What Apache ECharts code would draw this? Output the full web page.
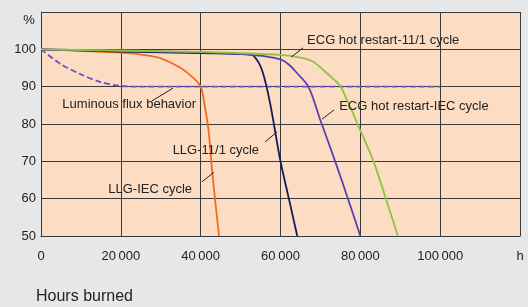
<!DOCTYPE html>
<html>
<head>
<meta charset="utf-8">
<script src="https://cdn.jsdelivr.net/npm/echarts@6/dist/echarts.min.js"></script>
<style>
  html, body { margin: 0; padding: 0; background: #e6e7e9; }
  #main { width: 528px; height: 307px; }
</style>
</head>
<body>
<div id="main"></div>
<script>
// values (hours, %)
var fluxBehavior = [[0, 100], [5000, 96], [10000, 93.3], [15000, 91.2], [20000, 90.2], [25000, 90], [100000, 90]];
var llgIec = [[0, 100], [10000, 99.6], [20000, 99.1], [25000, 98.6], [30000, 97.6], [35000, 95], [38000, 92.5], [40000, 90], [41000, 85], [42000, 78], [43000, 66], [44600, 50]];
var llg111 = [[0, 100], [20000, 99.4], [40000, 99], [50000, 98.8], [53000, 98.4], [54500, 96.5], [55500, 94], [56500, 90], [57500, 85], [58500, 79], [60000, 70], [62100, 60], [64200, 50]];
var ecgIec = [[0, 100], [40000, 99.2], [50000, 98.7], [57000, 98], [60000, 97.3], [62000, 96], [64000, 93.8], [67000, 90], [70000, 81], [73700, 70], [76900, 60], [80000, 50]];
var ecg111 = [[0, 100], [40000, 99.3], [50000, 99], [60000, 98.5], [65000, 97.8], [68000, 96.8], [71000, 94.2], [73300, 92], [74400, 90.9], [75400, 89.4], [76400, 87], [77500, 84.5], [79500, 79.5], [83300, 70], [86400, 60], [89400, 50]];

// labels with their leader lines: [text, line from, line to, text anchor, align]
var notes = [
  ['ECG hot restart-11/1 cycle', [62650, 97.9], [65660, 100.4], [66660, 102.5], 'left'],
  ['ECG hot restart-IEC cycle', [70400, 81.3], [73400, 83.75], [74700, 84.8], 'left'],
  ['Luminous flux behavior', [27800, 86.2], [33070, 89.6], [38840, 85.3], 'right'],
  ['LLG-11/1 cycle', [56140, 75.2], [59150, 77.9], [54640, 73], 'right'],
  ['LLG-IEC cycle', [40330, 64.5], [43340, 67.1], [37840, 62.6], 'right']
];

var font = "'Liberation Sans', Arial, sans-serif";

function fmtX(v) {
  if (v === 120000) return 'h';
  var s = String(v);
  if (v >= 1000) s = s.slice(0, s.length - 3) + '\u2009' + s.slice(-3);
  return s;
}

function line(name, data, color, dashed) {
  return {
    name: name,
    type: 'line',
    data: data,
    showSymbol: false,
    smooth: 0.3,
    lineStyle: { color: color, width: 1.8, type: dashed ? [6, 3] : 'solid' },
    z: dashed ? 2 : 3
  };
}

var myChart = echarts.init(document.getElementById('main'));

var option = {
  backgroundColor: '#e6e7e9',
  animation: false,
  grid: { left: 41, top: 12, right: 8, bottom: 71, show: true, backgroundColor: '#fddcc4', borderWidth: 0 },
  xAxis: {
    type: 'value', min: 0, max: 120000, interval: 20000,
    axisLine: { lineStyle: { color: '#3a3a3a', width: 1 } },
    axisTick: { show: false },
    splitLine: { lineStyle: { color: '#3a3a3a', width: 1 } },
    axisLabel: { margin: 14, color: '#222', fontFamily: font, fontSize: 13, formatter: fmtX }
  },
  yAxis: {
    type: 'value', min: 50, max: 110, interval: 10,
    axisLine: { show: true, lineStyle: { color: '#3a3a3a', width: 1 } },
    axisTick: { show: false },
    splitLine: { lineStyle: { color: '#3a3a3a', width: 1 } },
    axisLabel: { margin: 5, color: '#222', fontFamily: font, fontSize: 13,
      formatter: function (v) { return v === 110 ? '' : v; } }
  },
  series: [
    line('Luminous flux behavior', fluxBehavior, '#6b52c4', true),
    line('LLG-IEC cycle', llgIec, '#f26a22'),
    line('LLG-11/1 cycle', llg111, '#0d1d5a'),
    line('ECG hot restart-IEC cycle', ecgIec, '#5b40b4'),
    line('ECG hot restart-11/1 cycle', ecg111, '#8cc63f')
  ]
};
myChart.setOption(option);

// annotations placed through the chart's own scales
var g = [];
notes.forEach(function (n) {
  var a = myChart.convertToPixel({ gridIndex: 0 }, n[1]);
  var b = myChart.convertToPixel({ gridIndex: 0 }, n[2]);
  var t = myChart.convertToPixel({ gridIndex: 0 }, n[3]);
  g.push({ type: 'line', shape: { x1: a[0], y1: a[1], x2: b[0], y2: b[1] }, style: { stroke: '#222', lineWidth: 1 }, z: 10 });
  g.push({ type: 'text', x: t[0], y: t[1], style: { text: n[0], fill: '#222', font: '13px ' + font, align: n[4], verticalAlign: 'middle' }, z: 10 });
});
var pct = myChart.convertToPixel({ gridIndex: 0 }, [0, 107.8]);
g.push({ type: 'text', x: 29, y: pct[1], style: { text: '%', fill: '#222', font: '13px ' + font, align: 'center', verticalAlign: 'middle' } });
g.push({ type: 'text', x: 36, y: 297, style: { text: 'Hours burned', fill: '#222', font: '16px ' + font, align: 'left', verticalAlign: 'middle' } });
myChart.setOption({ graphic: g });
</script>
</body>
</html>
